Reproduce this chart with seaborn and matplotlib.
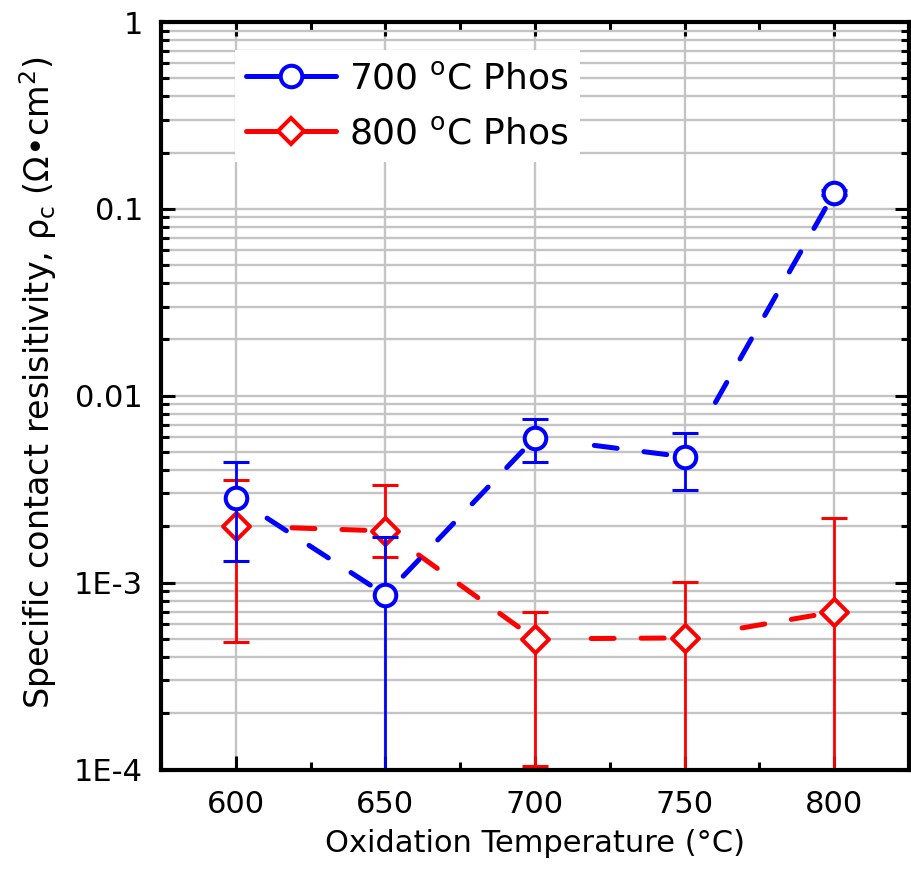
import matplotlib
matplotlib.use('Agg')

import numpy as np
import seaborn as sns
import matplotlib.pyplot as plt
from matplotlib.lines import Line2D
from matplotlib.ticker import FixedLocator, LogLocator, MultipleLocator, NullFormatter

# oxidation temperatures (x)
temps = [600, 650, 700, 750, 800]

# 700 C Phos: value, lower / upper end of the error bar
phos700 = [2.84e-3, 8.6e-4, 5.95e-3, 4.71e-3, 0.122]
phos700_lo = [1.31e-3, 1e-6, 4.42e-3, 3.13e-3, 0.118]
phos700_hi = [4.42e-3, 1.76e-3, 7.51e-3, 6.32e-3, 0.126]

# 800 C Phos
phos800 = [2.01e-3, 1.89e-3, 5.0e-4, 5.06e-4, 6.97e-4]
phos800_lo = [4.82e-4, 1.37e-3, 1.045e-4, 1e-6, 1e-6]
phos800_hi = [3.54e-3, 3.33e-3, 6.97e-4, 1.01e-3, 2.22e-3]

ytick_vals = [1e-4, 1e-3, 1e-2, 1e-1, 1]
ytick_labels = ['1E-4', '1E-3', '0.01', '0.1', '1']
xtick_vals = [600, 650, 700, 750, 800]

sns.set_style('ticks')
plt.rcParams['font.family'] = ['DejaVu Sans']
plt.rcParams['mathtext.fontset'] = 'dejavusans'
plt.rcParams['text.color'] = 'black'
plt.rcParams['axes.labelcolor'] = 'black'
plt.rcParams['xtick.color'] = 'black'
plt.rcParams['ytick.color'] = 'black'

DPI = 100
fig = plt.figure(figsize=(9.12, 8.71), dpi=DPI)
ax = fig.add_axes([161 / 912, 1 - 769.5 / 871, 748 / 912, 747.5 / 871])
ax.set_yscale('log')
ax.set_xlim(575, 825)
ax.set_ylim(1e-4, 1)

# grid
ax.set_axisbelow(True)
ax.grid(True, which='major', axis='both', color='#c4c4c4', lw=1.7)
ax.grid(True, which='minor', axis='y', color='#c4c4c4', lw=1.7)

LW = 3.6          # dashed line width, pt
LW_PX = LW * DPI / 72
DASH_VIS = 28     # visible dash length incl. round caps, px
GAP_VIS = 22      # visible gap, px
MEW = 2.9


def gapped_dashes(xs, ys, rad, color):
    """Origin-like dashed line: gap at the symbols, pattern anchored at the next point."""
    on = DASH_VIS - LW_PX
    off = GAP_VIS + LW_PX
    period = on + off
    pts = ax.transData.transform(np.column_stack([xs, ys]))
    inv = ax.transData.inverted()
    for a, b in zip(pts[:-1], pts[1:]):
        d = a - b
        L = np.hypot(*d)
        u = d / L
        avail = L - 2 * rad - 6
        n = int((avail - DASH_VIS) // period) + 1
        if n < 1:
            continue
        start = b + u * (rad + 3 + LW_PX / 2)
        stop = start + u * ((n - 1) * period + on)
        seg = inv.transform(np.vstack([start, stop]))
        ax.plot(seg[:, 0], seg[:, 1], color=color, lw=LW,
                linestyle=(0, (on / LW_PX, off / LW_PX)),
                dash_capstyle='round', solid_capstyle='round', zorder=2.5)


series = [
    (phos800, phos800_lo, phos800_hi, 'red', 'D', 13.7, 15, 3),
    (phos700, phos700_lo, phos700_hi, 'blue', 'o', 15.5, 12.5, 5),
]

for vals, lo, hi, col, mk, ms, rad, z in series:
    vals = np.array(vals)
    gapped_dashes(temps, vals, rad, col)
    ax.errorbar(temps, vals, yerr=[vals - np.array(lo), np.array(hi) - vals],
                fmt='none', ecolor=col, elinewidth=2.0, capsize=9.7,
                capthick=2.2, zorder=z)
    sns.scatterplot(x=temps, y=vals, marker=mk, s=ms ** 2, facecolor='white',
                    edgecolor=col, linewidth=MEW, zorder=z + 1, ax=ax,
                    legend=False)

ax.set_xlim(575, 825)
ax.set_ylim(1e-4, 1)

# ticks
ax.xaxis.set_major_locator(FixedLocator(xtick_vals))
ax.xaxis.set_minor_locator(MultipleLocator(25))
ax.set_xticklabels([str(t) for t in xtick_vals])
ax.yaxis.set_major_locator(FixedLocator(ytick_vals))
ax.set_yticklabels(ytick_labels)
ax.yaxis.set_minor_locator(LogLocator(base=10, subs=np.arange(2, 10)))
ax.yaxis.set_minor_formatter(NullFormatter())
ax.tick_params(which='both', direction='in', top=True, right=True,
               color='black', labelcolor='black', width=2.2, labelsize=22)
ax.tick_params(which='major', length=10)
ax.tick_params(which='minor', length=5.5)
ax.tick_params(axis='x', which='major', pad=15)
ax.tick_params(axis='y', which='major', pad=13)
for sp in ax.spines.values():
    sp.set_linewidth(3)
    sp.set_color('black')
    sp.set_zorder(10)

ax.set_xlabel('Oxidation Temperature (°C)', fontsize=22, labelpad=7)
ax.set_ylabel('Specific contact resisitivity, ρ$_{\\mathrm{c}}$ (Ω•cm$^{2}$)',
              fontsize=24)
ax.yaxis.set_label_coords(-0.136, 0.517)

handles = [
    Line2D([0], [0], color='blue', lw=LW, marker='o', ms=15.5, mfc='white',
           mec='blue', mew=MEW),
    Line2D([0], [0], color='red', lw=LW, marker='D', ms=13.7, mfc='white',
           mec='red', mew=MEW),
]
labels = ['700 $^{\\mathrm{o}}$C Phos', '800 $^{\\mathrm{o}}$C Phos']
leg = ax.legend(handles, labels, loc='upper left', bbox_to_anchor=(0.099, 0.962),
                borderaxespad=0, fontsize=26, frameon=True, fancybox=False,
                framealpha=1, facecolor='white', edgecolor='none',
                handlelength=2.5, handletextpad=0.35, borderpad=0.3,
                labelspacing=0.6)
leg.set_zorder(8)

fig.savefig('out.png', dpi=DPI)
